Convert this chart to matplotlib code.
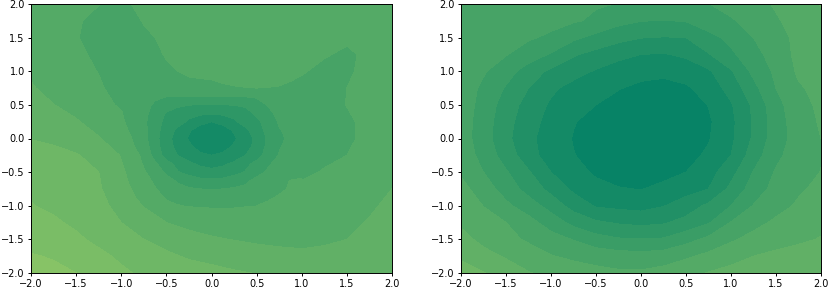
import matplotlib
matplotlib.use('Agg')
import matplotlib.pyplot as plt
import numpy as np

x = [-2, -1.75, -1.5, -1.25, -1, -0.75, -0.5, -0.25, 0, 0.25, 0.5, 0.75, 1, 1.25, 1.5, 1.75, 2]
y = [2, 1.75, 1.5, 1.25, 1, 0.75, 0.5, 0.25, 0, -0.25, -0.5, -0.75, -1, -1.25, -1.5, -1.75, -2]
x_core = [-1, -0.875, -0.75, -0.625, -0.5, -0.375, -0.25, -0.125, 0, 0.125, 0.25, 0.375, 0.5, 0.625, 0.75, 0.875, 1]
y_core = [1, 0.875, 0.75, 0.625, 0.5, 0.375, 0.25, 0.125, 0, -0.125, -0.25, -0.375, -0.5, -0.625, -0.75, -0.875, -1]
levels = list(range(0, 12))

# values, rows from y=2 down to y=-2
z_left = [
    [6.3, 6.3, 6.2, 6.02, 5.8, 6.25, 6.4, 6.5, 6.5, 6.5, 6.5, 6.5, 6.5, 6.5, 6.5, 6.5, 6.5],
    [6.3, 6.2, 6.08, 5.8, 5.6, 6.05, 6.3, 6.4, 6.45, 6.5, 6.5, 6.5, 6.5, 6.4, 6.4, 6.45, 6.5],
    [6.25, 6.12, 6.04, 5.75, 5.5, 5.85, 6.15, 6.3, 6.35, 6.4, 6.4, 6.35, 6.3, 6.2, 6.1, 6.25, 6.35],
    [6.2, 6.1, 6.08, 5.92, 5.45, 5.7, 6.05, 6.2, 6.3, 6.3, 6.3, 6.2, 6.15, 6.05, 5.9, 6.12, 6.25],
    [6.85, 6.45, 6.2, 5.98, 5.6, 5.4, 5.9, 6.1, 6.15, 6.2, 6.2, 6.1, 6.05, 5.85, 5.95, 6.1, 6.2],
    [7.1, 6.65, 6.3, 6.08, 5.75, 5.45, 5.5, 5.7, 5.9, 5.97, 6.0, 5.98, 5.85, 5.75, 6.0, 6.2, 6.3],
    [7.5, 7.02, 6.6, 6.2, 5.92, 5.3, 4.7, 4.1, 3.97, 4.15, 4.7, 5.3, 5.6, 5.7, 6.02, 6.25, 6.4],
    [7.9, 7.5, 7.1, 6.55, 6.15, 5.2, 3.5, 2.55, 2.0, 2.4, 3.4, 5.1, 5.4, 5.5, 5.85, 6.25, 6.45],
    [7.97, 7.8, 7.45, 7.07, 6.4, 5.3, 3.3, 1.9, 1.2, 1.85, 3.2, 4.85, 5.3, 5.5, 5.8, 6.3, 6.6],
    [8.4, 8.3, 8.08, 7.6, 6.95, 5.75, 3.6, 2.6, 2.0, 2.5, 3.6, 5.05, 5.5, 5.85, 6.0, 6.5, 6.75],
    [8.7, 8.55, 8.35, 8.0, 7.2, 6.1, 4.8, 3.7, 3.2, 3.7, 4.65, 5.4, 5.85, 6.05, 6.3, 6.6, 6.85],
    [8.9, 8.75, 8.55, 8.1, 7.4, 6.5, 5.6, 5.1, 4.97, 5.1, 5.4, 5.9, 6.15, 6.35, 6.55, 6.8, 7.0],
    [9.03, 8.85, 8.6, 8.3, 7.65, 6.95, 6.2, 5.95, 5.9, 5.93, 6.0, 6.2, 6.4, 6.55, 6.7, 6.9, 7.15],
    [9.35, 9.12, 8.85, 8.4, 8.0, 7.5, 7.0, 6.75, 6.6, 6.45, 6.4, 6.45, 6.55, 6.65, 6.85, 7.05, 7.3],
    [9.65, 9.4, 9.15, 8.8, 8.4, 8.0, 7.7, 7.3, 7.1, 6.97, 6.85, 6.8, 6.75, 6.85, 7.0, 7.25, 7.45],
    [10.07, 9.93, 9.6, 9.2, 8.85, 8.55, 8.15, 7.9, 7.75, 7.55, 7.4, 7.25, 7.2, 7.25, 7.4, 7.55, 7.75],
    [10.4, 10.2, 10.0, 9.55, 9.15, 8.85, 8.6, 8.4, 8.25, 8.1, 7.97, 7.8, 7.7, 7.65, 7.7, 7.8, 7.95],
]

# finer reading of the rings in the middle of the left panel
z_left_core = [
    [5.6, 5.5, 5.4, 5.65, 5.9, 6.0, 6.1, 6.13, 6.15, 6.18, 6.2, 6.2, 6.2, 6.15, 6.1, 6.07, 6.05],
    [5.68, 5.55, 5.43, 5.5, 5.7, 5.85, 5.95, 5.98, 6.0, 6.05, 6.08, 6.1, 6.1, 6.1, 6.06, 6.02, 5.95],
    [5.75, 5.6, 5.45, 5.42, 5.5, 5.6, 5.7, 5.8, 5.9, 5.94, 5.97, 5.99, 6.0, 5.99, 5.98, 5.92, 5.85],
    [5.83, 5.65, 5.4, 5.15, 5.02, 5.0, 5.0, 4.98, 4.97, 4.98, 5.0, 5.02, 5.1, 5.3, 5.55, 5.65, 5.7],
    [5.92, 5.65, 5.3, 4.85, 4.55, 4.2, 4.02, 3.98, 3.97, 3.98, 4.03, 4.2, 4.6, 5.05, 5.35, 5.5, 5.6],
    [6.05, 5.6, 5.25, 4.6, 3.9, 3.5, 3.3, 3.2, 3.17, 3.2, 3.3, 3.55, 4.2, 4.75, 5.25, 5.45, 5.5],
    [6.15, 5.65, 5.2, 4.45, 3.7, 3.35, 2.85, 2.25, 2.0, 2.25, 2.85, 3.35, 3.75, 4.45, 5.1, 5.3, 5.4],
    [6.3, 5.8, 5.25, 4.4, 3.5, 2.8, 2.1, 1.65, 1.5, 1.65, 2.1, 2.8, 3.5, 4.3, 4.95, 5.2, 5.35],
    [6.4, 5.97, 5.3, 4.35, 3.3, 2.65, 1.9, 1.4, 1.2, 1.4, 1.85, 2.55, 3.2, 4.15, 4.85, 5.15, 5.3],
    [6.7, 6.1, 5.5, 4.45, 3.4, 2.75, 2.2, 1.65, 1.45, 1.65, 2.15, 2.65, 3.3, 4.25, 4.95, 5.2, 5.4],
    [6.95, 6.4, 5.75, 4.6, 3.6, 3.0, 2.6, 2.2, 2.0, 2.2, 2.55, 3.0, 3.6, 4.4, 5.05, 5.3, 5.5],
    [7.05, 6.6, 5.9, 5.15, 4.3, 3.75, 3.15, 2.85, 2.75, 2.85, 3.15, 3.75, 4.25, 4.85, 5.35, 5.55, 5.65],
    [7.2, 6.65, 6.1, 5.55, 4.8, 4.05, 3.7, 3.35, 3.2, 3.35, 3.7, 4.05, 4.65, 5.15, 5.4, 5.65, 5.85],
    [7.3, 6.75, 6.3, 5.85, 5.4, 4.85, 4.45, 4.25, 4.2, 4.25, 4.45, 4.8, 5.25, 5.6, 5.85, 6.02, 6.05],
    [7.4, 6.95, 6.5, 6.05, 5.6, 5.3, 5.1, 5.0, 4.97, 5.0, 5.1, 5.2, 5.4, 5.65, 5.9, 6.05, 6.15],
    [7.5, 7.1, 6.7, 6.35, 5.9, 5.65, 5.55, 5.47, 5.45, 5.47, 5.55, 5.65, 5.8, 5.92, 6.05, 6.2, 6.28],
    [7.65, 7.3, 6.95, 6.55, 6.2, 6.05, 5.95, 5.92, 5.9, 5.91, 5.93, 5.96, 6.0, 6.1, 6.2, 6.3, 6.4],
]

z_right = [
    [5.9, 5.8, 5.6, 5.4, 5.25, 5.15, 5.07, 4.98, 4.85, 4.8, 4.85, 4.98, 5.3, 5.7, 6.1, 6.55, 7.05],
    [5.7, 5.6, 5.5, 5.4, 5.25, 5.1, 4.85, 4.3, 4.03, 3.97, 4.05, 4.6, 4.9, 5.35, 5.9, 6.35, 6.8],
    [5.5, 5.4, 5.2, 5.1, 4.85, 4.2, 3.7, 3.3, 3.03, 2.95, 3.0, 3.65, 4.3, 5.0, 5.7, 6.2, 6.6],
    [5.4, 5.2, 5.05, 4.55, 3.9, 3.1, 2.7, 2.3, 2.0, 1.93, 2.15, 2.93, 3.8, 4.65, 5.45, 6.25, 6.5],
    [5.5, 5.1, 4.45, 3.5, 2.8, 2.4, 1.9, 1.5, 1.3, 1.25, 1.5, 1.85, 2.9, 4.25, 5.2, 6.15, 6.35],
    [5.55, 4.8, 3.9, 3.0, 2.2, 1.65, 1.3, 1.05, 0.8, 0.65, 0.85, 1.45, 2.35, 3.7, 5.0, 5.9, 6.25],
    [5.6, 4.6, 3.55, 2.6, 1.85, 1.35, 1.0, 0.65, 0.45, 0.35, 0.5, 1.03, 1.9, 3.2, 4.65, 5.65, 6.2],
    [5.5, 4.5, 3.35, 2.4, 1.65, 1.05, 0.7, 0.45, 0.3, 0.25, 0.4, 0.85, 1.75, 3.1, 4.5, 5.55, 6.1],
    [5.5, 4.45, 3.25, 2.25, 1.5, 0.95, 0.6, 0.4, 0.25, 0.22, 0.45, 0.93, 1.8, 3.15, 4.55, 5.4, 6.0],
    [5.6, 4.65, 3.55, 2.42, 1.5, 1.03, 0.7, 0.5, 0.4, 0.45, 0.7, 1.15, 2.0, 3.5, 4.75, 5.55, 5.95],
    [5.85, 5.0, 4.1, 3.1, 2.0, 1.35, 0.85, 0.65, 0.6, 0.75, 1.0, 1.6, 2.65, 4.05, 5.1, 5.65, 6.02],
    [6.35, 5.45, 4.6, 3.6, 2.7, 1.8, 1.3, 1.05, 0.97, 1.2, 1.6, 2.0, 3.25, 4.45, 5.35, 5.85, 6.25],
    [6.75, 5.97, 5.2, 4.5, 3.6, 2.6, 1.9, 1.75, 1.65, 1.95, 2.5, 3.2, 4.0, 5.05, 5.6, 6.15, 6.5],
    [6.85, 6.45, 6.0, 5.35, 4.55, 3.7, 3.15, 2.9, 2.75, 2.9, 3.3, 3.9, 5.05, 5.65, 6.2, 6.5, 6.8],
    [7.3, 6.75, 6.3, 5.85, 5.4, 4.95, 4.4, 4.1, 4.05, 4.1, 4.65, 5.25, 5.85, 6.35, 6.65, 6.85, 7.05],
    [7.85, 7.3, 6.9, 6.5, 6.05, 5.8, 5.6, 5.45, 5.35, 5.5, 5.85, 6.25, 6.7, 7.0, 7.2, 7.35, 7.55],
    [8.4, 8.05, 7.5, 7.05, 6.75, 6.5, 6.3, 6.15, 6.15, 6.35, 6.7, 7.05, 7.25, 7.5, 7.65, 7.8, 7.95],
]

fig = plt.figure(figsize=(8.3, 2.89), dpi=100)
ax1 = fig.add_axes([31 / 830, 16 / 289, 361 / 830, 269 / 289])
ax2 = fig.add_axes([461 / 830, 16 / 289, 360 / 830, 269 / 289])

style = dict(levels=levels, cmap='summer', vmin=-0.1, vmax=19.9)
ax1.contourf(x, y, np.array(z_left), **style)
ax1.contourf(x_core, y_core, np.array(z_left_core), **style)
ax2.contourf(x, y, np.array(z_right), **style)

for ax in [ax1, ax2]:
    ax.set_xticks(np.arange(-2, 2.5, 0.5))
    ax.set_yticks(np.arange(-2, 2.5, 0.5))
    ax.tick_params(labelsize=7, length=2.5, width=0.7, pad=2)
    for s in ax.spines.values():
        s.set_linewidth(0.7)

fig.savefig('out.png', dpi=100)
